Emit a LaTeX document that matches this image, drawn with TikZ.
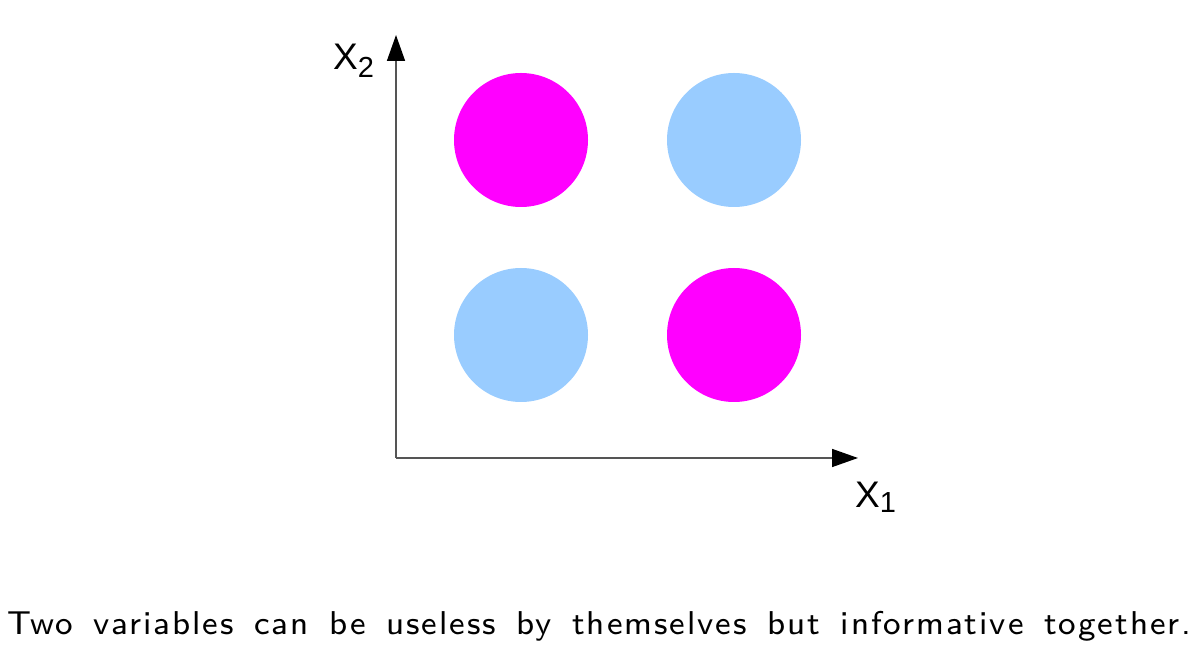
\documentclass[tikz,border=0pt]{standalone}
\usepackage{fontspec}
\newfontfamily\arialf{Liberation Sans}
\newfontfamily\capfont{lmsans8-regular.otf}[LetterSpace=6,WordSpace=1.5]
\usetikzlibrary{arrows.meta}
\definecolor{mag}{HTML}{FF00FF}
\definecolor{lblue}{HTML}{99CCFF}
\definecolor{axisgray}{HTML}{555555}
\begin{document}
\begin{tikzpicture}[x=1pt,y=1pt,
  blob/.style={circle,inner sep=0pt,minimum size=134pt,draw=none},
  axisline/.style={draw=axisgray,line width=1.5pt,-{Triangle[length=26pt,width=18pt,fill=black,color=black]}},
  axlabel/.style={inner sep=0pt,anchor=base west,font=\arialf\fontsize{37}{40}\selectfont},
  caption/.style={inner sep=0pt,anchor=base west,font=\capfont\fontsize{33}{40}\selectfont}]
\useasboundingbox (0,0) rectangle (1197,672);
\node[blob,fill=mag] (c1) at (521,532) {};
\node[blob,fill=lblue] (c2) at (734,532) {};
\node[blob,fill=lblue] (c3) at (521,337) {};
\node[blob,fill=mag] (c4) at (734,337) {};
\coordinate (o) at (396,214);
\coordinate (ytip) at (396,637);
\coordinate (xtip) at (858,214);
\draw[axisline] (o) -- (ytip);
\draw[axisline] (o) -- (xtip);
\node[axlabel] (lx2) at (333,602) {X\raisebox{-8pt}{\fontsize{29}{30}\selectfont 2}};
\node[axlabel] (lx1) at (855,164) {X\raisebox{-5pt}{\fontsize{29}{30}\selectfont 1}};
\node[caption] (cap) at (7,37) {Two variables can be useless by themselves but informative together.};
\end{tikzpicture}
\end{document}
